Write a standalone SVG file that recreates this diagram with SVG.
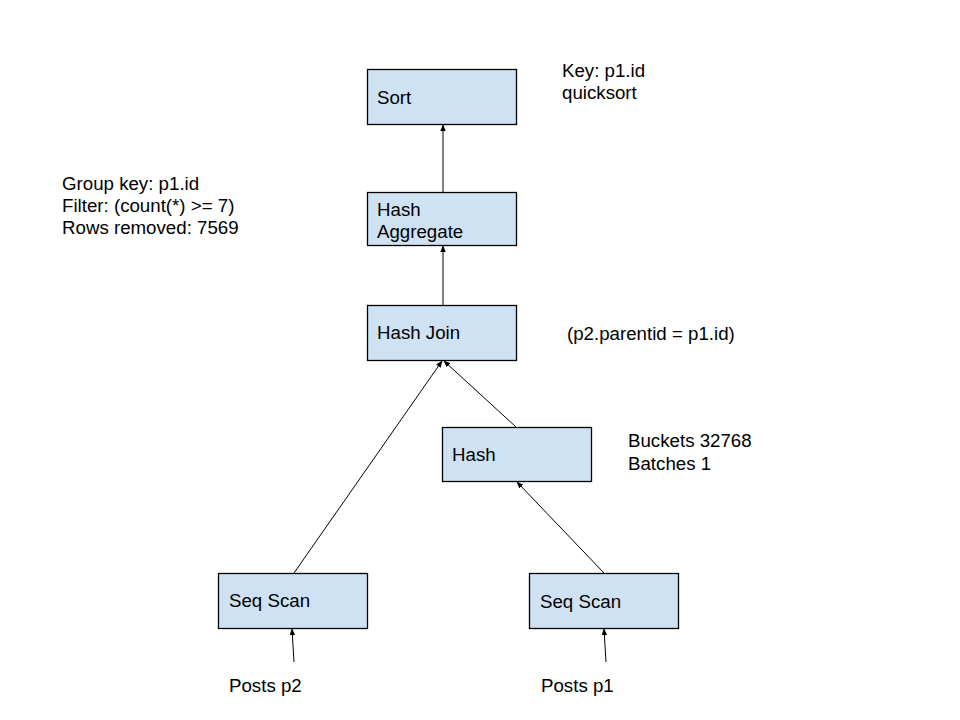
<svg xmlns="http://www.w3.org/2000/svg" width="960" height="720" viewBox="0 0 960 720">
  <style>
    .node rect { fill: #cfe2f3; stroke: #000; stroke-width: 1.3; }
    text { font-family: "Liberation Sans", Arial, sans-serif; font-size: 18.7px; fill: #000; }
    .edge { stroke: #000; stroke-width: 1; fill: none; marker-end: url(#arrow); }
  </style>
  <defs>
    <marker id="arrow" viewBox="0 0 10 10" refX="9" refY="5" markerWidth="7" markerHeight="7" orient="auto" markerUnits="userSpaceOnUse">
      <path d="M0,1 L10,5 L0,9 Z" fill="#000"/>
    </marker>
  </defs>
  <rect width="960" height="720" fill="#fff"/>

  <g id="connectors">
    <line class="edge" x1="443" y1="192" x2="443" y2="125"/>
    <line class="edge" x1="443" y1="305" x2="443" y2="246"/>
    <line class="edge" x1="294" y1="573" x2="442" y2="361"/>
    <line class="edge" x1="516" y1="427" x2="444" y2="361"/>
    <line class="edge" x1="604" y1="573" x2="517" y2="482"/>
    <line class="edge" x1="294" y1="662" x2="292" y2="629"/>
    <line class="edge" x1="606" y1="662" x2="604" y2="629"/>
  </g>

  <g id="sort" class="node">
    <rect x="367.5" y="69.5" width="149" height="55"/>
    <text x="377" y="104">Sort</text>
  </g>
  <g id="hash-aggregate" class="node">
    <rect x="367.5" y="192.5" width="149" height="53"/>
    <text x="377" y="216">Hash</text>
    <text x="377" y="238">Aggregate</text>
  </g>
  <g id="hash-join" class="node">
    <rect x="367.5" y="305.5" width="149" height="55"/>
    <text x="377" y="339">Hash Join</text>
  </g>
  <g id="hash" class="node">
    <rect x="442.5" y="427.5" width="149" height="54"/>
    <text x="452" y="461">Hash</text>
  </g>
  <g id="seq-scan-p2" class="node">
    <rect x="218.5" y="573.5" width="149" height="55"/>
    <text x="229" y="607">Seq Scan</text>
  </g>
  <g id="seq-scan-p1" class="node">
    <rect x="529.5" y="573.5" width="149" height="55"/>
    <text x="540" y="608">Seq Scan</text>
  </g>

  <g id="labels">
    <text x="562" y="77">Key: p1.id</text>
    <text x="562" y="99">quicksort</text>
    <text x="62" y="190">Group key: p1.id</text>
    <text x="62" y="212">Filter: (count(*) &gt;= 7)</text>
    <text x="62" y="234">Rows removed: 7569</text>
    <text x="567" y="340">(p2.parentid = p1.id)</text>
    <text x="628" y="447">Buckets 32768</text>
    <text x="628" y="470">Batches 1</text>
    <text x="229" y="692">Posts p2</text>
    <text x="541" y="692">Posts p1</text>
  </g>
</svg>
